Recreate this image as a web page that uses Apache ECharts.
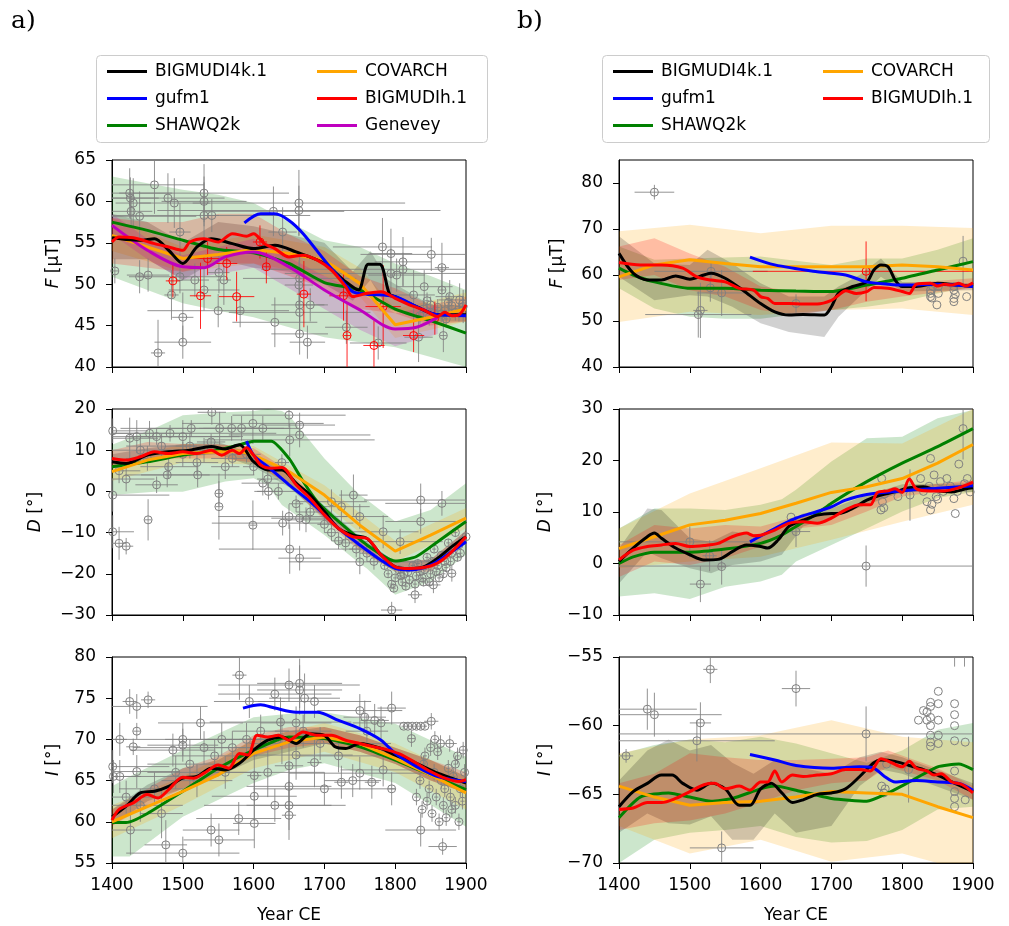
<!DOCTYPE html>
<html>
<head>
<meta charset="utf-8">
<script src="https://cdn.jsdelivr.net/npm/echarts@6/dist/echarts.min.js"></script>
<style>
  html, body { margin: 0; padding: 0; background: #fff; }
  #chart { width: 1009px; height: 926px; }
</style>
</head>
<body>
<div id="chart"></div>
<script>
// ---- panel a) F ----
var aF_black = [[1400,55.6],[1420,55.4],[1440,55.3],[1460,55.5],[1480,54.1],[1500,52.5],[1520,54.5],[1540,55.5],[1570,54.9],[1600,54.3],[1630,54.7],[1660,53.9],[1700,52.5],[1730,50.3],[1748,49.3],[1762,52.4],[1778,52.4],[1792,48.8],[1800,48.5],[1830,47.3],[1860,46.3],[1900,46.3]];
var aF_blue = [[1587,57.4],[1610,58.5],[1630,58.5],[1650,57.7],[1670,56.1],[1700,52.9],[1720,50.9],[1740,49.1],[1760,48.8],[1800,48.5],[1830,47.3],[1860,46.3],[1900,46.2]];
var aF_green = [[1400,57.5],[1450,56.5],[1500,55.3],[1550,54.2],[1600,53.8],[1650,52.5],[1700,50.2],[1750,49.3],[1800,47],[1850,45.6],[1900,44.1]];
var aF_orange = [[1400,55.9],[1500,53.1],[1550,53.6],[1600,54.2],[1650,53.7],[1700,52.9],[1750,50.1],[1800,45.1],[1850,46],[1900,47]];
var aF_red = [[1400,55.1],[1410,55.7],[1430,55.6],[1460,54.9],[1480,54.5],[1500,54.1],[1510,55.1],[1530,55.5],[1550,55.1],[1570,56.1],[1590,55.8],[1600,56.1],[1615,54.9],[1630,54.3],[1650,53.3],[1670,53.5],[1690,52.9],[1710,51.7],[1730,49.7],[1740,48.5],[1760,48.9],[1780,49.1],[1800,48.3],[1820,47.5],[1840,46.9],[1860,46.1],[1870,46.6],[1880,46.2],[1890,46.3],[1900,47.5]];
var aF_magenta = [[1400,57.1],[1450,54.1],[1500,52.1],[1530,52],[1560,53.3],[1600,53.9],[1650,52.1],[1700,49.3],[1750,46.9],[1800,44.6],[1830,44.8],[1860,46]];
var aF_greenBand = [[1400,50.9,63],[1450,49.3,62.2],[1500,47.7,61.4],[1550,46.8,60.8],[1600,46,59.8],[1650,44.8,57.5],[1700,43.6,55.3],[1750,43,54.5],[1800,42.4,52.5],[1850,41.2,51],[1900,40,49.3]];
var aF_orangeBand = [[1400,54,58],[1500,51.5,54.5],[1600,52.5,56],[1700,51,54.5],[1750,48.5,52],[1800,43.5,47],[1900,45.5,49]];
var aF_greyBand = [[1400,53,58.5],[1450,53,57.5],[1500,50.5,55],[1550,53,57.5],[1600,52,57],[1650,51.5,56],[1700,50,55],[1740,48,51.5],[1765,50.5,54],[1790,47,50.5],[1850,45.5,47.5],[1900,45.5,47.5]];
var aF_redBand = [[1400,52.5,58],[1450,52,57.5],[1500,51.5,57.5],[1550,52.5,58.5],[1600,52.5,58.5],[1650,51,56],[1700,49.5,54],[1750,47,51],[1800,46.5,49.5],[1850,45,47.5],[1900,45.5,48.5]];
var aF_magentaBand = [[1400,56,58.5],[1450,53,55.5],[1500,50.5,53.5],[1600,52,55.5],[1700,47,51],[1750,44.5,49],[1800,42.5,46.5],[1860,44,47.5]];
// [year, value, dYear, dValue]
var aF_points = [[1404,51.6,5,1.5],[1425,61,60,3],[1426,60.4,40,2.5],[1430,59.8,25,3],[1427,58.8,30,2],[1439,58.2,80,3],[1439,50.9,15,2],[1451,51.1,30,2],
  [1460,62,70,3.5],[1465,41.7,10,4],[1479,60.4,80,3],[1488,59.8,50,3],[1484,48.7,10,3],[1496,56.3,15,3.5],[1496,50.9,60,2],
  [1500,46,15,3],[1500,43,40,2],[1517,50.5,20,2],[1530,61,120,3.5],[1530,60,60,3],[1530,58.3,150,4],[1541,58.3,10,2],[1530,49.3,50,2.5],[1551,51.4,15,2.5],[1558,50.5,10,3],[1550,46.8,100,2],[1581,46.8,5,2],
  [1630,45.4,60,3],[1628,58.8,100,3],[1641,56.3,20,3],[1664,59.8,150,4],[1664,58.9,200,3],[1665,50.7,80,3],[1664,49.9,20,3],[1665,47.5,40,2],[1665,46.6,100,3],[1665,44,40,2.5],[1676,43,25,2],[1680,47.5,20,2],
  [1731,44.8,30,2],[1776,42.9,40,2],[1782,54.5,70,3.5],[1794,53.7,30,3],[1794,51.3,150,3],[1802,51.1,40,2],[1811,52.7,40,3],[1811,51.8,200,2],[1826,48.7,30,3],[1841,49.7,40,2],[1851,53.6,100,2],[1866,52,10,3],[1866,49.3,5,3],[1877,48.5,20,2],[1891,48.1,30,2],[1896,47.3,10,2],[1868,43.8,5,2],[1833,43.6,20,3],
  [1835,46.2,3,1],[1840,47,3,1],[1845,48,3,1],[1850,47.5,3,1],[1855,46.5,3,1],[1860,47.2,3,1],[1865,46.4,3,1],[1870,46.8,3,1],[1875,47.8,3,1],[1880,47.4,3,1],[1885,46.6,3,1],[1890,46.5,3,1],[1895,47.6,3,1],[1848,46,3,1],[1872,45.8,3,1]];
var aF_redPoints = [[1486,50.4,10,2],[1525,48.6,15,4],[1576,48.5,25,3],[1618,52.1,5,2],[1609,55.1,10,2],[1671,48.8,10,4],[1727,48.6,20,3],[1732,43.8,5,4],[1770,42.6,15,3],[1783,47.3,25,5],[1826,43.8,15,2],[1562,52.5,15,2],[1535,53.1,20,2],[1856,45.9,5,2]];

// ---- panel a) D ----
var aD_black = [[1400,7.2],[1420,6.8],[1450,8.8],[1480,9.6],[1510,10],[1540,10.9],[1560,10.3],[1580,11.3],[1600,7.2],[1620,5.2],[1640,5.2],[1660,2],[1680,-0.9],[1700,-4.9],[1720,-9],[1740,-10.6],[1760,-11.4],[1780,-15.4],[1800,-18.3],[1820,-18.7],[1840,-18.3],[1860,-16.2],[1880,-13.4],[1900,-11]];
var aD_blue = [[1590,12.2],[1600,8.8],[1620,6],[1650,1.6],[1680,-2.5],[1700,-5.7],[1720,-9],[1750,-13],[1780,-16.7],[1800,-18.7],[1820,-19.1],[1850,-17.9],[1880,-14.6],[1900,-12.2]];
var aD_green = [[1400,6],[1450,7.2],[1500,8.8],[1550,10],[1580,11.3],[1600,12.2],[1625,12.2],[1650,8],[1670,2.4],[1690,-2.5],[1720,-7.3],[1760,-13],[1800,-16.9],[1830,-15.8],[1860,-12.2],[1900,-7.3]];
var aD_orange = [[1400,4.8],[1450,7.6],[1500,9.2],[1550,9.6],[1580,9.8],[1600,8.8],[1650,4.8],[1700,-0.9],[1750,-8.2],[1800,-14.5],[1850,-10.6],[1900,-6.5]];
var aD_red = [[1400,8],[1420,7.6],[1440,8.4],[1460,9.6],[1480,9.2],[1500,9.6],[1520,9.2],[1540,10],[1555,8.8],[1570,10],[1580,9.2],[1590,10.6],[1600,8.8],[1610,6.4],[1625,5.6],[1640,5.8],[1660,1.6],[1680,-1.7],[1700,-5.7],[1720,-9],[1740,-11],[1760,-11.4],[1780,-15.4],[1800,-18.3],[1820,-18.7],[1850,-18.1],[1870,-16.2],[1900,-11]];
var aD_greenBand = [[1400,-0.9,11.3],[1460,-0.1,15.3],[1500,-0.1,18.5],[1560,2.4,19.2],[1600,3.2,19.5],[1620,1.5,20],[1640,-3.3,19.5],[1650,-4.5,18.5],[1700,-10.6,8],[1750,-17.5,-0.9],[1760,-18.7,-2],[1800,-25.1,-7.3],[1850,-21.9,-4.5],[1900,-15.4,2]];
var aD_orangeBand = [[1400,2.5,7],[1500,7,11.5],[1600,6.5,11],[1700,-3,1.5],[1800,-17,-12],[1900,-9,-4]];
var aD_greyBand = [[1400,5.5,9],[1450,7.5,10.5],[1500,8.5,11.5],[1550,9,12],[1600,6,9],[1650,1,4],[1700,-6.5,-3.5],[1750,-14,-11],[1800,-19.5,-17],[1850,-19,-16.5],[1900,-12.5,-9.5]];
var aD_redBand = [[1400,6,10],[1450,8,12],[1500,8,11.5],[1550,8,11.5],[1600,7,10.5],[1650,1.5,5],[1700,-7,-4],[1750,-14.5,-11.5],[1800,-19.5,-17],[1850,-19.5,-16.5],[1900,-12.5,-9.5]];
var aD_points = [[1401,14.7,50,3],[1401,-0.9,80,4],[1401,-9.8,30,4],[1410,-12.6,10,4],[1420,-13.3,10,2],[1425,12.9,40,5],[1435,13.3,150,4],[1451,-6.9,5,5],[1453,14.1,60,3],[1463,13.3,40,2],[1463,1.6,30,2],[1478,4,60,3],[1482,14.1,150,2],[1512,15.3,100,2],[1500,13.3,80,4],[1521,4,80,3],[1541,19.2,20,3],[1552,15.3,100,4],[1551,-0.5,5,3],[1551,-3.7,5,8],[1569,15.3,40,3],[1583,15.3,60,3],[1599,16.5,100,5],[1613,15.3,50,3],[1599,-8.2,5,6],[1613,2,30,3],[1621,0,20,2],[1635,0,30,2],[1650,18.5,80,3],[1651,12.5,120,4],[1665,16.1,50,3],[1665,13.7,100,3],[1641,-7.7,100,3],[1650,-6.1,100,3],[1651,-14,100,6],[1665,-16.2,30,3],[1665,-6.5,40,3],[1674,-6.9,30,3],[1710,-2.5,50,3],[1724,-3.7,40,4],[1741,-0.9,20,5],[1750,-6.1,40,3],[1750,-17.1,100,3],[1783,-9.8,50,4],[1795,-28.8,15,2],[1807,-12.2,60,3],[1836,-2.1,80,4],[1836,-7.3,50,3],[1866,-2.9,80,3],[1880,-19.9,5,2],[1828,-25.1,10,2],[1854,-22.7,10,2],
  [1410,5,30,3],[1420,3,40,3],[1440,10,60,3],[1450,8,30,3],[1470,11,50,3],[1480,6,40,3],[1500,9,30,3],[1510,11,20,3],[1520,7,30,3],[1530,10,60,3],[1540,12,20,2],[1560,6,20,3],[1570,8,30,2],[1590,9,20,2],[1600,6,15,2],[1620,3,15,2],[1640,7,10,2],[1660,-3,10,2],[1680,-5,20,2],[1700,-8,10,2],[1710,-10,10,2],[1720,-12,10,2],[1730,-12.5,10,2],[1745,-14,10,2],[1760,-15,10,2],[1770,-17,10,2],
  [1790,-20,3,1],[1800,-21,3,1],[1805,-19,3,1],[1810,-22,3,1],[1815,-23,3,1],[1820,-21.5,3,1],[1825,-18,3,1],[1830,-20.5,3,1],[1835,-19.5,3,1],[1840,-22,3,1],[1845,-16,3,1],[1850,-20,3,1],[1855,-14,3,1],[1860,-18,3,1],[1865,-15.5,3,1],[1870,-17,3,1],[1875,-12.5,3,1],[1880,-15,3,1],[1885,-10,3,1],[1890,-13,3,1],[1895,-12,3,1],[1900,-11,3,1],[1785,-18,3,1],[1795,-22.5,3,1],[1812,-20,3,1],[1842,-19,3,1],[1862,-21,3,1],[1872,-18.5,3,1],[1888,-16,3,1],
  [1798,-23.5,3,1],[1808,-20.5,3,1],[1818,-19.5,3,1],[1828,-22.5,3,1],[1838,-21,3,1],[1848,-22,3,1],[1858,-19.5,3,1],[1868,-20,3,1],[1878,-17,3,1],[1892,-15,3,1],[1852,-17,3,1],[1832,-17.5,3,1]];

// ---- panel a) I ----
var aI_black = [[1400,60.6],[1420,61.9],[1440,63.5],[1460,63.7],[1480,64.3],[1500,65.3],[1520,65.5],[1540,66.5],[1560,66.3],[1580,67.1],[1600,68.7],[1620,69.9],[1640,70.3],[1660,69.5],[1680,70.7],[1700,70.5],[1715,69.1],[1730,68.9],[1750,69.5],[1780,68.9],[1800,68.1],[1830,67.1],[1860,65.9],[1900,64.7]];
var aI_blue = [[1585,73.8],[1610,74.2],[1630,73.8],[1660,73.3],[1690,73.3],[1720,72.3],[1750,71.3],[1780,69.9],[1800,68.3],[1830,66.7],[1860,65.5],[1900,64.9]];
var aI_green = [[1400,59.9],[1420,59.9],[1450,61],[1500,63.7],[1550,66.5],[1600,68.7],[1650,70.3],[1700,70.1],[1750,69.1],[1800,67.5],[1850,65.7],[1900,63.9]];
var aI_orange = [[1400,60],[1500,63.7],[1550,65.7],[1600,68.3],[1650,69.7],[1700,70.3],[1750,69.5],[1800,67.7],[1850,65.7],[1900,63.5]];
var aI_red = [[1400,60.2],[1410,61.5],[1430,62.3],[1450,63.3],[1465,62.9],[1480,63.9],[1500,65.4],[1515,65.3],[1530,65.9],[1550,66.9],[1565,66.5],[1580,68.3],[1592,68.1],[1605,70.5],[1620,70.3],[1635,70.5],[1650,69.9],[1670,70.9],[1690,70.5],[1710,70.5],[1730,69.9],[1750,69.5],[1770,69.1],[1790,68.7],[1810,68.1],[1830,67.1],[1850,66.1],[1870,65.3],[1890,64.9],[1900,65.1]];
var aI_greenBand = [[1400,55.8,64.3],[1425,55.8,65.5],[1500,60.6,68.7],[1600,64.7,72.7],[1650,66.3,73.1],[1700,67.1,73.3],[1800,64.7,71.9],[1900,59.4,67.9]];
var aI_orangeBand = [[1400,58,62],[1500,62,65.5],[1600,66.5,70],[1700,68.5,72],[1800,66,69.5],[1900,61.5,65.5]];
var aI_greyBand = [[1400,59.5,61.5],[1450,62.5,64.5],[1500,64,66.5],[1550,65.5,67.5],[1600,67.5,70],[1650,68.5,71],[1700,69.5,71.5],[1750,68.5,70.5],[1800,67,69],[1850,65,67.5],[1900,63.5,65.5]];
var aI_redBand = [[1400,59.5,61.5],[1450,62,64],[1500,64,66.5],[1550,65.5,68],[1600,68,70.5],[1650,69,71.5],[1700,69.5,71.5],[1750,68.5,70.5],[1800,67,69],[1850,65,67.5],[1900,63.5,66]];
var aI_points = [[1401,66.7,80,2],[1402,65.5,100,2],[1411,70,10,2],[1411,65.5,30,2],[1425,74.6,10,1.5],[1435,74,100,1.5],[1430,69.1,10,1],[1435,71,5,1],[1435,66.1,60,2],[1426,59,30,3],[1451,74.8,10,1],[1476,57.2,30,3],[1486,68.7,60,2],[1500,70,100,2],[1500,69.3,50,2],[1500,56.2,80,2],[1525,72,60,2],[1540,59,40,2],[1551,57.8,50,2],[1580,77.8,10,3],[1579,60.4,60,2],[1594,74.6,50,2],[1601,59.8,30,3],[1601,63.1,60,3],[1601,65.6,10,3],[1630,62,100,2],[1630,75.5,80,2],[1638,72.1,100,3],[1650,76.6,100,2],[1650,66.8,20,3],[1650,64.3,60,3],[1650,62,60,3],[1650,60.8,10,3],[1665,76.8,60,3],[1665,76,60,3],[1672,75,50,3],[1686,74.6,80,2],[1686,67.2,10,3],[1660,68.1,80,3],[1694,69.5,100,2],[1724,64.8,10,2],[1750,73.5,60,2],[1750,65.9,100,2],[1767,64.8,10,2],[1757,72.7,30,2],[1771,72.3,20,2],[1783,66.3,60,2],[1795,73.8,20,2],[1795,64,5,2],[1823,70.1,5,1],[1836,59,50,2],[1851,72.2,10,1],[1867,57,20,1],[1877,69.5,10,1],[1896,68.7,5,1],
  [1812,71.6,3,0.3],[1818,71.6,3,0.3],[1824,71.6,3,0.3],[1830,71.6,3,0.3],[1836,71.6,3,0.3],[1842,71.6,3,0.3],
  [1420,63,40,2],[1440,62,60,2],[1460,64,50,2],[1470,61,30,3],[1490,66,40,2],[1510,67,60,3],[1520,65,50,2],[1530,69,100,2],[1545,68,60,2],[1555,70,80,2],[1560,66,50,2],[1570,69,40,2],[1590,70,60,2],[1610,71,40,2],[1620,66,80,3],[1640,70,60,3],[1660,72,50,2],[1670,71,40,2],[1700,64,100,2],[1720,68,60,2],[1740,65,40,2],[1760,71,30,2],[1780,72,40,2],
  [1830,63,3,1],[1835,65,3,1],[1838,61.5,3,1],[1840,67,3,1],[1845,62.5,3,1],[1848,64,3,1],[1850,69,3,1],[1852,61,3,1],[1855,66,3,1],[1858,63,3,1],[1860,68.5,3,1],[1862,60,3,1],[1865,65,3,1],[1868,62,3,1],[1870,64,3,1],[1872,60.5,3,1],[1875,66.5,3,1],[1878,63,3,1],[1880,61.5,3,1],[1882,65.5,3,1],[1885,62,3,1],[1888,68,3,1],[1890,60,3,1],[1892,64,3,1],[1895,62.5,3,1],[1898,66,3,1],[1842,68,3,1],[1856,70,3,1],[1864,69.5,3,1],[1885,67,3,1]];

// ---- panel b) F ----
var bF_black = [[1400,64.7],[1420,60.4],[1440,58.9],[1460,58.9],[1480,59.8],[1500,59.1],[1520,60],[1530,60.4],[1550,59.3],[1575,56.7],[1600,53.8],[1620,52],[1640,51.3],[1660,51.4],[1690,51.3],[1700,53.1],[1710,56],[1730,57.5],[1750,58.5],[1760,61.1],[1770,62.2],[1780,61.8],[1790,58.9],[1800,57.5],[1820,57.5],[1850,58.2],[1880,57.8],[1900,57.5]];
var bF_blue = [[1585,63.9],[1620,62.2],[1680,60.7],[1720,60],[1750,58.5],[1780,58],[1800,57.8],[1850,58],[1900,57.5]];
var bF_green = [[1400,61.5],[1420,60],[1450,58.5],[1500,57.1],[1550,57.1],[1600,56.7],[1650,56.5],[1700,56.4],[1750,57.8],[1800,59.3],[1850,61.1],[1900,62.9]];
var bF_orange = [[1400,59.6],[1450,62.2],[1500,63.3],[1550,62.5],[1600,61.8],[1650,61.8],[1700,61.8],[1750,61.8],[1800,62.2],[1850,61.8],[1900,61.1]];
var bF_red = [[1400,62.7],[1430,62.2],[1460,62.2],[1490,61.5],[1510,59.6],[1530,58.9],[1550,58.5],[1570,57.1],[1590,56.7],[1600,55.3],[1610,54.9],[1620,53.8],[1640,53.8],[1660,53.7],[1680,53.7],[1700,54.5],[1710,55.6],[1720,56.6],[1735,56],[1750,56.4],[1760,57.3],[1780,57.1],[1800,56.4],[1810,56],[1820,58],[1840,58.2],[1850,57.6],[1860,58],[1870,57.8],[1880,58.2],[1890,57.6],[1900,58.3]];
var bF_greenBand = [[1400,57.1,66.2],[1450,52.7,63.3],[1500,50.9,63.6],[1550,50.5,63.8],[1600,50.5,64],[1700,52.4,62.2],[1750,53.1,63.6],[1800,54.2,63.6],[1850,56,65.5],[1900,57.5,68]];
var bF_orangeBand = [[1400,49.8,69.5],[1500,52,70.9],[1600,51.3,69.1],[1700,52.4,70.7],[1800,52.7,70.7],[1900,51.3,70.2]];
var bF_greyBand = [[1400,59.6,68.4],[1450,54.5,62.5],[1500,55.6,62.2],[1525,55.3,65.5],[1560,53.1,62.5],[1600,49.5,58.2],[1640,47.6,55.3],[1690,46.5,55.3],[1710,50.9,57.5],[1740,55.3,60],[1770,59.6,63.6],[1800,56.4,58.5],[1900,56.7,58.2]];
var bF_redBand = [[1400,58.9,66.2],[1450,60,68],[1500,56.7,64.7],[1550,55.3,61.8],[1600,52.4,57.5],[1650,51.3,56.4],[1700,52.4,56.7],[1750,54.2,58.5],[1800,55.3,58.2],[1900,57.1,59.3]];
var bF_points = [[1450,78,28,1.6],[1512,51.4,75,5],[1515,52.3,10,6],[1529,57.2,15,3],[1545,56.1,35,5],[1530,60.8,80,2],[1650,53.8,5,2],
  [1840,56,0,0],[1840,55.3,0,0],[1840,56.7,0,0],[1842,55,0,0],[1849,53.5,0,0],[1851,56,0,0],[1851,57.5,0,0],[1873,54.2,0,0],[1873,54.9,0,0],[1873,56.7,0,0],[1873,57.5,0,0],[1886,63,0,5.5],[1891,55.3,0,0],[1875,55.8,0,0],[1843,57.5,0,0]];
var bF_redPoints = [[1749,60.8,160,6.5]];

// ---- panel b) D ----
var bD_black = [[1400,0.4],[1420,3],[1440,5.2],[1450,5.9],[1460,4.9],[1480,3],[1500,1.7],[1520,0.7],[1540,0.8],[1560,2.3],[1580,3.6],[1600,3.3],[1610,3],[1625,4.6],[1640,7.2],[1660,8.4],[1680,9.4],[1700,9.7],[1710,9.7],[1730,10.7],[1750,12.3],[1770,13.3],[1790,13.9],[1810,14.7],[1830,14.9],[1850,14.1],[1870,13.9],[1890,14.5],[1900,14.7]];
var bD_blue = [[1585,4.2],[1620,6.8],[1650,8.8],[1680,10.1],[1700,11],[1720,12.3],[1750,13.4],[1800,14.1],[1850,14.6],[1900,15.1]];
var bD_green = [[1400,0],[1420,1.3],[1450,2.2],[1500,2.2],[1550,2.8],[1600,3.9],[1630,5.5],[1650,7.2],[1680,9.7],[1700,11.7],[1750,15.9],[1800,19.5],[1850,22.7],[1900,26.2]];
var bD_orange = [[1400,2.9],[1450,5.2],[1500,7.5],[1550,8.4],[1600,9.7],[1650,11.7],[1700,13.8],[1750,14.9],[1800,16.5],[1850,19.5],[1900,23.1]];
var bD_red = [[1400,0.7],[1420,2.6],[1440,3.3],[1460,3.6],[1480,3.9],[1500,3.3],[1520,3.5],[1540,3.9],[1560,5.2],[1580,5.9],[1590,5.4],[1600,5.5],[1620,6.5],[1640,7.8],[1660,8.1],[1680,7.8],[1700,8.8],[1720,10.4],[1740,11.4],[1755,11.4],[1765,13.8],[1780,14.1],[1790,14.5],[1800,13.8],[1810,16.4],[1820,14.5],[1840,14.1],[1860,14.1],[1880,14.7],[1900,15.8]];
var bD_greenBand = [[1400,-6.4,6.8],[1450,-5.8,10.7],[1500,-6.9,10.7],[1550,-4.5,10.4],[1600,-3.5,11.4],[1630,-2.2,12.5],[1650,0.4,14.3],[1700,3.6,19.8],[1750,6.8,24.3],[1800,10.1,24.6],[1850,12.7,28.2],[1900,13.9,29.8]];
var bD_orangeBand = [[1400,-0.9,6.8],[1500,0.4,13.6],[1600,1.3,18.5],[1700,4.6,23.5],[1800,8.1,23.3],[1900,11.4,30]];
var bD_greyBand = [[1400,-3.9,2.9],[1440,2.3,10.7],[1460,1,10.4],[1500,-0.9,4.9],[1530,-1.9,4.2],[1560,-0.3,6.2],[1600,0.4,5.5],[1630,1.7,6.8],[1660,7.2,9.7],[1700,8.8,10.7],[1750,11.4,13.3],[1800,13.9,15.4],[1900,13.9,15.6]];
var bD_redBand = [[1400,-2.6,3.6],[1450,0.4,7.5],[1500,-0.3,6.8],[1550,1,7.5],[1600,3.3,7.2],[1650,6.8,9.1],[1700,7.5,9.7],[1750,10.1,12],[1800,13,14.7],[1900,14.9,16.2]];
var bD_points = [[1500,4.2,100,3],[1515,-4,15,3.5],[1528,1.5,10,3],[1545,-0.6,5,3.5],[1650,6.2,20,3],[1749,-0.5,350,4],
  [1643,9,0,0],[1645,8,0,0],[1771,16.5,0,0],[1770,10.4,0,0],[1774,10.8,0,0],[1772,12,0,0],[1775,13.5,0,0],[1794,13,0,0],[1811,13.3,0,5],[1826,16.5,0,0],[1840,20.4,0,0],[1840,10.4,0,0],[1835,12,0,0],[1845,17.2,0,0],[1854,15.9,0,0],[1863,16.5,0,0],[1873,12.6,0,0],[1875,9.7,0,0],[1880,19.3,0,0],[1886,26.2,0,6],[1892,16.5,0,0],[1896,13.9,0,0],[1830,14,0,0],[1838,15,0,0],[1848,13,0,0],[1858,14,0,0],[1868,15,0,0],[1878,14,0,0],[1888,15.5,0,0],[1842,11.5,0,0],[1850,12.5,0,0]];

// ---- panel b) I ----
var bI_black = [[1400,-65.9],[1420,-64.8],[1440,-64.2],[1460,-63.6],[1475,-63.6],[1490,-64.2],[1510,-64.7],[1530,-64.2],[1550,-64.6],[1570,-65.8],[1585,-65.8],[1600,-64.6],[1615,-64.2],[1630,-64.9],[1645,-65.6],[1660,-65.4],[1680,-65],[1700,-64.9],[1720,-64.6],[1740,-63.7],[1760,-62.7],[1770,-62.5],[1790,-62.6],[1810,-62.9],[1830,-63.2],[1850,-63.6],[1870,-64.1],[1900,-64.8]];
var bI_blue = [[1585,-62.1],[1620,-62.5],[1650,-62.9],[1700,-63.1],[1740,-63],[1760,-63.1],[1775,-63.7],[1790,-64.1],[1820,-64],[1850,-64.1],[1880,-64.2],[1900,-64.7]];
var bI_green = [[1400,-66.7],[1430,-65.2],[1470,-64.9],[1500,-65.2],[1530,-65.5],[1560,-65.3],[1600,-64.6],[1620,-64.4],[1650,-64.7],[1700,-65.3],[1750,-65.5],[1780,-64.9],[1810,-64.1],[1850,-63],[1880,-62.8],[1900,-63.2]];
var bI_orange = [[1400,-64.4],[1450,-65.2],[1500,-65.8],[1550,-65.6],[1600,-65.5],[1650,-65.2],[1700,-64.8],[1750,-64.9],[1800,-65],[1850,-65.9],[1900,-66.7]];
var bI_red = [[1400,-66.1],[1420,-66],[1440,-65.6],[1460,-65.6],[1480,-65.3],[1500,-64.8],[1520,-64.3],[1535,-64.2],[1550,-64.6],[1570,-64.4],[1585,-64.7],[1600,-64.1],[1610,-64.1],[1620,-63.3],[1630,-64.1],[1645,-63.6],[1660,-63.7],[1680,-63.6],[1700,-63.5],[1720,-63.2],[1740,-63.2],[1755,-63.3],[1770,-62.4],[1785,-62.7],[1800,-63],[1810,-62.6],[1820,-63.1],[1835,-63.3],[1845,-63.6],[1855,-63.5],[1870,-64.1],[1885,-64.3],[1900,-64.9]];
var bI_greenBand = [[1400,-70,-62.1],[1450,-68.3,-61.4],[1500,-67.8,-61],[1550,-67.6,-61.2],[1600,-67.3,-60.8],[1650,-68.1,-61.3],[1700,-68.5,-62],[1750,-68.4,-62.7],[1800,-67.6,-61.8],[1850,-66.1,-60.3],[1900,-65.9,-59.8]];
var bI_orangeBand = [[1400,-67.3,-62],[1500,-69.3,-61],[1600,-68.3,-60.7],[1700,-69.9,-59.6],[1800,-69.3,-60.8],[1850,-70,-61],[1900,-70,-61.2]];
var bI_greyBand = [[1400,-67.8,-64],[1440,-66.4,-61.8],[1470,-67.1,-61],[1500,-67.2,-61.8],[1530,-66.6,-61.4],[1560,-68.3,-62.7],[1590,-68.3,-63.5],[1620,-66.4,-62.5],[1650,-67.8,-63],[1700,-67.3,-63.5],[1740,-64.4,-62.3],[1770,-63.2,-61.9],[1800,-63.5,-62.3],[1900,-65.4,-64.2]];
var bI_redBand = [[1400,-67.6,-64.2],[1450,-67.1,-63.5],[1500,-66.9,-62],[1550,-66.4,-62.3],[1600,-65.6,-62.5],[1650,-64.7,-62.5],[1700,-64.2,-62.4],[1750,-64,-62.3],[1780,-63,-61.8],[1850,-64,-63.1],[1900,-65.4,-64.4]];
var bI_points = [[1410,-62.2,10,0.5],[1440,-58.8,70,1.5],[1450,-59.2,95,1.6],[1510,-61.1,110,1.5],[1515,-59.8,15,1.5],[1529,-55.9,10,1],[1545,-68.9,45,1.2],[1650,-57.3,20,1.3],[1749,-60.6,350,2],[1771,-64.4,0,0],[1776,-64.6,0,0],[1774,-64.9,0,0],[1778,-62.8,0,0],[1809,-63.2,0,2.4],
  [1823,-59.6,0,0],[1835,-59.6,0,0],[1835,-59,0,0],[1840,-58.3,0,0],[1840,-58.6,0,0],[1840,-59.4,0,0],[1840,-60,0,0],[1840,-60.7,0,0],[1840,-61.2,0,0],[1840,-61.5,0,0],[1851,-57.5,0,0],[1851,-58.4,0,0],[1851,-59.6,0,0],[1851,-60.7,0,0],[1851,-61.3,0,0],[1874,-58.4,0,0],[1874,-59.2,0,0],[1874,-60,0,0],[1874,-61.1,0,0],[1874,-63.3,0,0],[1874,-64.8,0,0],[1874,-65.3,0,0],[1874,-65.9,0,0],[1889,-61.2,0,0],[1889,-65.4,0,0],[1830,-58.9,0,0],[1874,-54.2,0,1.5],[1888,-54.2,0,1.5]];

var yearTicks = [1400, 1500, 1600, 1700, 1800, 1900];

var COLORS = {black: '#000000', blue: '#0000ff', green: '#008000', orange: '#ffa500', red: '#ff0000', magenta: '#bf00bf', grey: '#808080'};
var FONT = 'DejaVu Sans';

var chart = echarts.init(document.getElementById('chart'));

function clamp(v, a, b) { return Math.max(a, Math.min(b, v)); }

// filled uncertainty band drawn as one polygon through the axis scales
function band(gi, data, fill) {
  return {
    type: 'custom', xAxisIndex: gi, yAxisIndex: gi, data: data, silent: true,
    renderItem: function (params, api) {
      if (params.dataIndex !== 0) return null;
      var cs = params.coordSys, top = [], bot = [];
      data.forEach(function (d) {
        var p = api.coord([d[0], d[2]]);
        var q = api.coord([d[0], d[1]]);
        top.push([p[0], clamp(p[1], cs.y, cs.y + cs.height)]);
        bot.unshift([q[0], clamp(q[1], cs.y, cs.y + cs.height)]);
      });
      return {type: 'polygon', shape: {points: top.concat(bot)}, style: {fill: fill}};
    }
  };
}

// observation circles with error bars
function points(gi, data, color) {
  return {
    type: 'custom', xAxisIndex: gi, yAxisIndex: gi, data: data, silent: true,
    renderItem: function (params, api) {
      var cs = params.coordSys;
      var x0 = cs.x, x1 = cs.x + cs.width, y0 = cs.y, y1 = cs.y + cs.height;
      var x = api.value(0), y = api.value(1), dx = api.value(2), dy = api.value(3);
      var c = api.coord([x, y]);
      var kids = [];
      var ls = {stroke: color, lineWidth: 1, opacity: 0.85};
      if (dx > 0 && c[1] >= y0 && c[1] <= y1) {
        var a = clamp(api.coord([x - dx, y])[0], x0, x1), b = clamp(api.coord([x + dx, y])[0], x0, x1);
        kids.push({type: 'line', shape: {x1: a, y1: c[1], x2: b, y2: c[1]}, style: ls});
      }
      if (dy > 0 && c[0] >= x0 && c[0] <= x1) {
        var t = clamp(api.coord([x, y + dy])[1], y0, y1), u = clamp(api.coord([x, y - dy])[1], y0, y1);
        if (u > t) kids.push({type: 'line', shape: {x1: c[0], y1: t, x2: c[0], y2: u}, style: ls});
      }
      if (c[0] >= x0 && c[0] <= x1 && c[1] >= y0 && c[1] <= y1) {
        kids.push({type: 'circle', shape: {cx: c[0], cy: c[1], r: 4}, style: {fill: 'none', stroke: color, lineWidth: 1}});
      }
      return {type: 'group', children: kids};
    }
  };
}

function line(gi, name, data, color, smooth) {
  return {
    type: 'line', name: name, xAxisIndex: gi, yAxisIndex: gi, data: data,
    symbol: 'none', smooth: smooth, lineStyle: {width: 3, color: color}, itemStyle: {color: color}
  };
}

var grids = [
  {left: 112, top: 160, width: 354, height: 207},
  {left: 112, top: 409, width: 354, height: 206},
  {left: 112, top: 657, width: 354, height: 206},
  {left: 619, top: 160, width: 354, height: 207},
  {left: 619, top: 409, width: 354, height: 206},
  {left: 619, top: 657, width: 354, height: 206}
].map(function (g) {
  g.show = true; g.borderColor = '#000'; g.borderWidth = 1; g.backgroundColor = 'transparent';
  return g;
});

var yCfg = [
  {min: 40, max: 65, interval: 5, name: '{i|F} [μT]', gap: 50},
  {min: -30, max: 20, interval: 10, name: '{i|D} [°]', gap: 68},
  {min: 55, max: 80, interval: 5, name: '{i|I} [°]', gap: 50},
  {min: 40, max: 85, interval: 10, name: '{i|F} [μT]', gap: 53, custom: [40, 50, 60, 70, 80]},
  {min: -10, max: 30, interval: 10, name: '{i|D} [°]', gap: 65},
  {min: -70, max: -55, interval: 5, name: '{i|I} [°]', gap: 65}
];

var tickLabel = {fontSize: 17, fontFamily: FONT, color: '#000'};

var xAxes = grids.map(function (g, i) {
  var bottom = (i === 2 || i === 5);
  return {
    type: 'value', gridIndex: i, min: 1400, max: 1900, interval: 100,
    name: bottom ? 'Year CE' : '', nameLocation: 'middle', nameGap: 44,
    nameTextStyle: {fontSize: 17, fontFamily: FONT, color: '#000'},
    axisLine: {show: true, onZero: false, lineStyle: {color: '#000', width: 1}},
    axisTick: {show: true, length: 6, lineStyle: {color: '#000'}},
    axisLabel: Object.assign({show: bottom, margin: 14, customValues: yearTicks,
      formatter: function (v) { return String(v); }}, tickLabel),
    splitLine: {show: false}
  };
});

var yAxes = yCfg.map(function (c, i) {
  var lab = Object.assign({margin: 16, formatter: function (v) { return String(v).replace('-', '\u2212'); }}, tickLabel);
  var tick = {show: true, length: 6, lineStyle: {color: '#000'}};
  if (c.custom) { lab.customValues = c.custom; tick.customValues = c.custom; }
  return {
    type: 'value', gridIndex: i, min: c.min, max: c.max, interval: c.interval,
    name: c.name, nameLocation: 'middle', nameGap: c.gap,
    nameTextStyle: {fontSize: 17, fontFamily: FONT, color: '#000', rich: {i: {fontSize: 17, fontFamily: FONT, fontStyle: 'italic', color: '#000'}}},
    axisLine: {show: true, onZero: false, lineStyle: {color: '#000', width: 1}},
    axisTick: tick, axisLabel: lab, splitLine: {show: false}
  };
});

var A_GREEN = 'rgba(0,128,0,0.2)', A_ORANGE = 'rgba(255,165,0,0.2)', A_GREY = 'rgba(0,0,0,0.18)', A_RED = 'rgba(255,0,0,0.2)', A_MAG = 'rgba(191,0,191,0.2)';

var series = [];
function panel(gi, p) {
  series.push(band(gi, p.greenBand, A_GREEN));
  series.push(band(gi, p.orangeBand, A_ORANGE));
  series.push(band(gi, p.greyBand, A_GREY));
  if (p.magentaBand) series.push(band(gi, p.magentaBand, A_MAG));
  series.push(band(gi, p.redBand, A_RED));
  series.push(points(gi, p.points, COLORS.grey));
  if (p.redPoints) series.push(points(gi, p.redPoints, COLORS.red));
  series.push(line(gi, 'SHAWQ2k', p.green, COLORS.green, 0.2));
  series.push(line(gi, 'COVARCH', p.orange, COLORS.orange, false));
  if (p.magenta) series.push(line(gi, 'Genevey', p.magenta, COLORS.magenta, 0.3));
  series.push(line(gi, 'BIGMUDI4k.1', p.black, COLORS.black, 0.3));
  series.push(line(gi, 'gufm1', p.blue, COLORS.blue, 0.3));
  series.push(line(gi, 'BIGMUDIh.1', p.red, COLORS.red, 0.3));
}

panel(0, {green: aF_green, orange: aF_orange, black: aF_black, blue: aF_blue, red: aF_red, magenta: aF_magenta,
  greenBand: aF_greenBand, orangeBand: aF_orangeBand, greyBand: aF_greyBand, redBand: aF_redBand, magentaBand: aF_magentaBand,
  points: aF_points, redPoints: aF_redPoints});
panel(1, {green: aD_green, orange: aD_orange, black: aD_black, blue: aD_blue, red: aD_red,
  greenBand: aD_greenBand, orangeBand: aD_orangeBand, greyBand: aD_greyBand, redBand: aD_redBand, points: aD_points});
panel(2, {green: aI_green, orange: aI_orange, black: aI_black, blue: aI_blue, red: aI_red,
  greenBand: aI_greenBand, orangeBand: aI_orangeBand, greyBand: aI_greyBand, redBand: aI_redBand, points: aI_points});
panel(3, {green: bF_green, orange: bF_orange, black: bF_black, blue: bF_blue, red: bF_red,
  greenBand: bF_greenBand, orangeBand: bF_orangeBand, greyBand: bF_greyBand, redBand: bF_redBand,
  points: bF_points, redPoints: bF_redPoints});
panel(4, {green: bD_green, orange: bD_orange, black: bD_black, blue: bD_blue, red: bD_red,
  greenBand: bD_greenBand, orangeBand: bD_orangeBand, greyBand: bD_greyBand, redBand: bD_redBand, points: bD_points});
panel(5, {green: bI_green, orange: bI_orange, black: bI_black, blue: bI_blue, red: bI_red,
  greenBand: bI_greenBand, orangeBand: bI_orangeBand, greyBand: bI_greyBand, redBand: bI_redBand, points: bI_points});

function legend(left, names) {
  return {
    left: left, top: 58, orient: 'vertical', data: names, icon: 'rect',
    itemWidth: 40, itemHeight: 3, itemGap: 10, selectedMode: false,
    textStyle: {fontSize: 17, fontFamily: FONT, color: '#000', lineHeight: 17, padding: [0, 0, 0, 3]}
  };
}

var option = {
  animation: false,
  backgroundColor: '#fff',
  grid: grids,
  xAxis: xAxes,
  yAxis: yAxes,
  legend: [
    legend(102, ['BIGMUDI4k.1', 'gufm1', 'SHAWQ2k']),
    legend(312, ['COVARCH', 'BIGMUDIh.1', 'Genevey']),
    legend(608, ['BIGMUDI4k.1', 'gufm1', 'SHAWQ2k']),
    legend(818, ['COVARCH', 'BIGMUDIh.1'])
  ],
  graphic: [
    {type: 'rect', shape: {x: 96.5, y: 55.5, width: 391, height: 87, r: 4}, style: {fill: '#fff', stroke: '#cccccc', lineWidth: 1}, z: 0},
    {type: 'rect', shape: {x: 602.5, y: 55.5, width: 387, height: 87, r: 4}, style: {fill: '#fff', stroke: '#cccccc', lineWidth: 1}, z: 0},
    {type: 'text', left: 11, top: 9, style: {text: 'a)', fontSize: 25, fontFamily: 'DejaVu Serif', fill: '#000'}},
    {type: 'text', left: 517, top: 9, style: {text: 'b)', fontSize: 25, fontFamily: 'DejaVu Serif', fill: '#000'}}
  ],
  series: series
};

chart.setOption(option);
</script>
</body>
</html>
